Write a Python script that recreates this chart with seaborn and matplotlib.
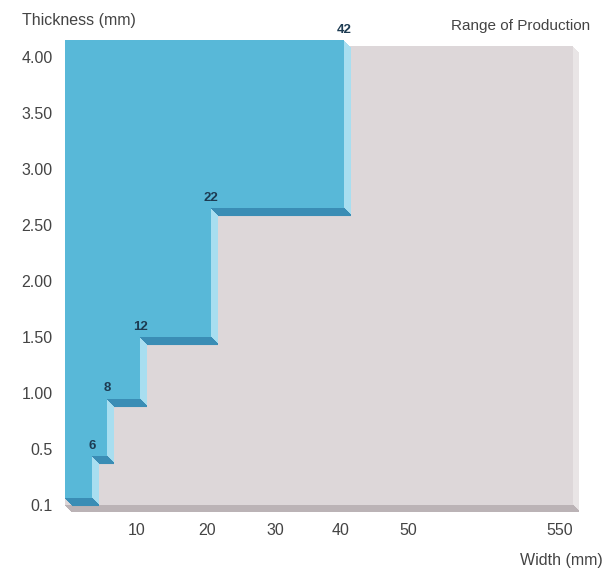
import numpy as np
import pandas as pd
import matplotlib
matplotlib.use("Agg")
import matplotlib.pyplot as plt
import matplotlib.transforms as mtransforms
import seaborn as sns

# step data: max width (mm) available up to a given thickness (mm)
widths = [6, 8, 12, 22, 42]
thickness = [0.45, 0.95, 1.5, 2.65, 4.15]
base_thickness = 0.15
range_width = 600
range_thickness = 4.1
range_base = 0.1

x_ticks = [10, 20, 30, 40, 50, 550]
y_ticks = [0.1, 0.5, 1.0, 1.5, 2.0, 2.5, 3.0, 3.5, 4.0]
y_tick_labels = ["0.1", "0.5", "1.00", "1.50", "2.00", "2.50", "3.00", "3.50", "4.00"]

# schematic (non linear) axes of the original drawing
x_knot_val = [0, 6, 8, 10, 12, 20, 22, 30, 40, 42, 50, 550, 600, 620]
x_knot_pos = [65, 92, 107, 137, 140, 207, 211, 275, 341, 344, 408, 560, 573, 585]
y_knot_val = [0.0, 0.1, 0.5, 1.0, 1.5, 2.0, 2.5, 3.0, 3.5, 4.0, 4.5]
y_knot_pos = [-0.25, 0, 1, 2, 3, 4, 5, 6, 7, 8, 9]

df = pd.DataFrame({"width": widths, "thickness": thickness})

BLUE = "#58b8d8"
BLUE_SIDE = "#a8def0"
BLUE_DARK = "#3a8db5"
GREY = "#ddd7d9"
GREY_SIDE = "#e9e5e6"
GREY_DARK = "#bbb3b6"
TXT = "#444444"

sns.set_theme(style="white")
plt.rcParams["font.family"] = ["Liberation Sans", "DejaVu Sans"]

fig = plt.figure(figsize=(6.05, 5.75), dpi=100)
ax = fig.add_axes([65 / 605, (575 - 512) / 575, 520 / 605, (512 - 36) / 575])
ax.set_xscale("function", functions=(lambda v: np.interp(v, x_knot_val, x_knot_pos),
                                     lambda p: np.interp(p, x_knot_pos, x_knot_val)))
ax.set_yscale("function", functions=(lambda v: np.interp(v, y_knot_val, y_knot_pos),
                                     lambda p: np.interp(p, y_knot_pos, y_knot_val)))
ax.set_xlim(0, 620)
ax.set_ylim(0.05, 4.1875)


def shifted(k):
    return mtransforms.offset_copy(ax.transData, fig=fig, x=k, y=-k, units="dots")


# grey "range of production" slab
for k in range(1, 7):
    ax.fill_between([0, range_width], range_base, range_thickness,
                    color=GREY_SIDE, lw=0, transform=shifted(k), zorder=1)
for k in range(0, 7):
    ax.plot([0, range_width], [range_base, range_base], color=GREY_DARK,
            lw=1.5, solid_capstyle="butt", transform=shifted(k), zorder=1.5)
ax.fill_between([0, range_width], range_base, range_thickness, color=GREY, lw=0, zorder=2)

# blue step area with extruded sides
ys = [base_thickness] + list(df["thickness"])
xs = list(df["width"]) + [df["width"].iloc[-1]]
for k in range(1, 8):
    ax.fill_betweenx(ys, 0, xs, step="post", color=BLUE_SIDE, lw=0,
                     transform=shifted(k), zorder=3)
edge_left = [0] + widths[:-1]
edge_right = widths
edge_y = [base_thickness] + thickness[:-1]
for x0, x1, y in zip(edge_left, edge_right, edge_y):
    for k in range(0, 8):
        ax.plot([x0, x1], [y, y], color=BLUE_DARK, lw=1.5,
                solid_capstyle="butt", transform=shifted(k), zorder=4)
ax.fill_betweenx(ys, 0, xs, step="post", color=BLUE, lw=0, zorder=5)

for w, t in zip(widths, thickness):
    ax.annotate(str(w), (w, t), xytext=(0, 3), textcoords="offset points",
                ha="center", va="bottom", fontsize=9.5, color="#1d3b52",
                fontweight="bold", zorder=6)

ax.set_xticks(x_ticks)
ax.set_xticklabels([str(v) for v in x_ticks])
ax.set_yticks(y_ticks)
ax.set_yticklabels(y_tick_labels)
ax.minorticks_off()
ax.tick_params(axis="both", length=0, labelsize=11.5, labelcolor=TXT)
ax.tick_params(axis="x", pad=8)
ax.tick_params(axis="y", pad=9)
for s in ax.spines.values():
    s.set_visible(False)
ax.patch.set_alpha(0)

fig.text(22 / 605, 1 - 20 / 575, "Thickness (mm)", ha="left", va="center",
         fontsize=11.5, color=TXT)
fig.text(590 / 605, 1 - 26 / 575, "Range of Production", ha="right", va="center",
         fontsize=11, color=TXT)
fig.text(603 / 605, 1 - 561 / 575, "Width (mm)", ha="right", va="center",
         fontsize=11.5, color=TXT)

fig.savefig("out.png", dpi=100)
